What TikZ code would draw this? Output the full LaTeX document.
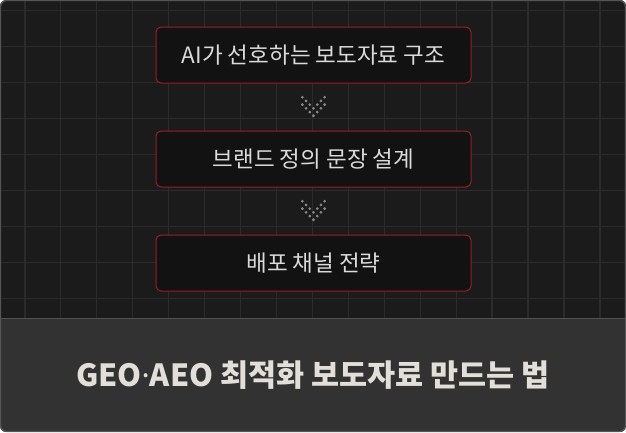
\documentclass[tikz,border=0pt]{standalone}
\usepackage{fontspec}
\setmainfont{Noto Sans CJK KR}
\newfontfamily\dotfont{Noto Sans}
\usepackage{tikz}
\usetikzlibrary{calc}
\definecolor{panel}{HTML}{1B1B1B}
\definecolor{gridline}{HTML}{2B2B2B}
\definecolor{footer}{HTML}{323232}
\definecolor{boxfill}{HTML}{121212}
\definecolor{boxred}{HTML}{9A1F22}
\definecolor{boxtext}{HTML}{DADADA}
\definecolor{titletext}{HTML}{E2DED8}
\definecolor{dotgray}{HTML}{858585}
\tikzset{
    stepbox/.style={rounded corners=5pt,draw=boxred,line width=1pt,fill=boxfill,
        minimum width=315pt,minimum height=56pt,text=boxtext,
        font=\fontsize{22.5pt}{26pt}\selectfont},
    chevdot/.style={circle,fill=dotgray,inner sep=0pt,minimum size=3.1pt}
}

\begin{document}
\begin{tikzpicture}[x=1pt,y=-1pt]
\fill[white] (0,0) rectangle (626,432);
\useasboundingbox (0,0) rectangle (626,432);
% panels
\begin{scope}
    \clip[rounded corners=6pt] (0,0) rectangle (626,432);
    \fill[panel] (0,0) rectangle (626,318);
    \foreach \gx in {0,...,16} \draw[gridline,line width=1.4pt] (24.8+35.95*\gx,0) -- (24.8+35.95*\gx,318);
    \foreach \gy in {0,...,8} \draw[gridline,line width=1.4pt] (0,10.7+36*\gy) -- (626,10.7+36*\gy);
    \fill[footer] (0,318) rectangle (626,432);
    \draw[footer!85!white,line width=1pt] (0,318.5) -- (626,318.5);
\end{scope}
\draw[gridline!80!white,line width=1.2pt,rounded corners=6pt] (0.6,0.6) rectangle (625.4,431.4);
% steps
\begin{scope}[every node/.style={stepbox}]
    \node (S1) at (313.5,55) {AI가 선호하는 보도자료 구조};
    \node (S2) at (313.5,159) {브랜드 정의 문장 설계};
    \node (S3) at (313.5,263) {배포 채널 전략};
\end{scope}
% chevrons between steps
\foreach \a/\b in {S1/S2,S2/S3} {
    \coordinate (M) at ($(\a.south)!0.5!(\b.north)$);
    \foreach \c/\r in {0/0,6/0,1/1,5/1,0/2,2/2,4/2,6/2,1/3,3/3,5/3,2/4,4/4,3/5}
        \node[chevdot] at ($(M)+(3.7*\c-11.1,3.7*\r-9.8)$) {};
}
% title
\node[text=titletext,font=\fontsize{30.5pt}{34pt}\selectfont\bfseries] (T) at (313,375) {GEO{\dotfont ·}AEO 최적화 보도자료 만드는 법};
\end{tikzpicture}
\end{document}
